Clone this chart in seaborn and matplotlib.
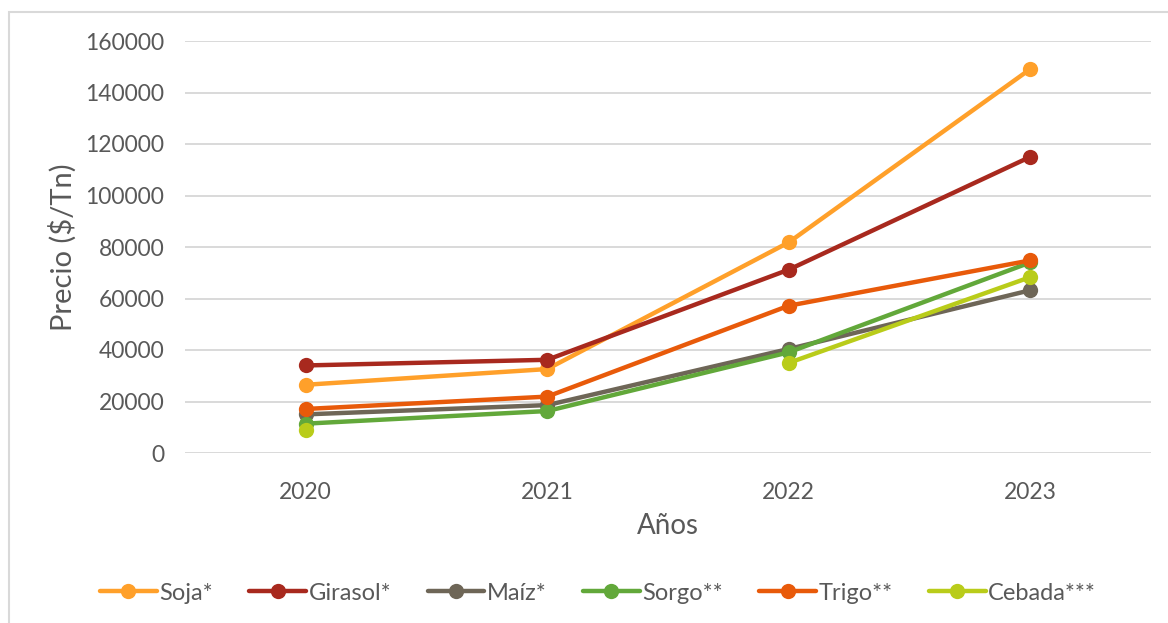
import numpy as np
import pandas as pd
import matplotlib
matplotlib.use("Agg")
import matplotlib.pyplot as plt
from matplotlib.lines import Line2D
from matplotlib.patches import Rectangle
import seaborn as sns

# ---- datos ----
anios = ["2020", "2021", "2022", "2023"]
soja = [26500, 32600, 81800, 149100]
girasol = [34000, 36200, 71200, 115000]
maiz = [15000, 18600, 40400, 63200]
sorgo = [11400, 16300, 39100, 74000]
trigo = [17100, 21900, 57200, 74800]
cebada = [9000, np.nan, 35000, 68300]

cultivos = ["Soja*", "Girasol*", "Maíz*", "Sorgo**", "Trigo**", "Cebada***"]
series = [soja, girasol, maiz, sorgo, trigo, cebada]
colores = ["#FFA02A", "#A8291E", "#6E6657", "#62A83A", "#E85A0A", "#B9CC1A"]

filas = []
for nombre, vals in zip(cultivos, series):
    tramo = 0
    for a, v in zip(anios, vals):
        if pd.isna(v):
            tramo += 1  # corta la linea donde falta el dato
            continue
        filas.append({"Año": a, "Precio": v, "Cultivo": nombre, "tramo": tramo})
df = pd.DataFrame(filas)

# ---- figura ----
sns.set_style("white")
plt.rcParams["font.family"] = ["Lato", "DejaVu Sans"]
gris = "#595959"

fig = plt.figure(figsize=(11.68, 6.23), dpi=100)
ax = fig.add_axes([185 / 1168, 1 - 453 / 623, 966 / 1168, 412 / 623])

sns.lineplot(data=df, x="Año", y="Precio", hue="Cultivo", units="tramo",
             estimator=None, hue_order=cultivos, palette=colores,
             marker="o", markersize=11, markeredgewidth=0, linewidth=3.2,
             legend=False, sort=False, ax=ax)

ax.set_xlim(-0.5, 3.5)
ax.set_ylim(0, 160000)
ax.set_yticks(range(0, 160001, 20000))
ax.yaxis.grid(True, color="#D9D9D9", linewidth=1.4)
ax.set_axisbelow(True)
sns.despine(ax=ax, left=True, bottom=True)
ax.tick_params(axis="both", length=0, labelsize=16.5, labelcolor=gris)
ax.tick_params(axis="y", pad=15)
ax.tick_params(axis="x", pad=21)

ax.set_xlabel("Años", fontsize=20, color=gris, labelpad=7)
ax.set_ylabel("Precio ($/Tn)", fontsize=21, color=gris, labelpad=6)

handles = [Line2D([0], [0], color=c, linewidth=3.2, marker="o", markersize=11,
                  markeredgewidth=0) for c in colores]
fig.legend(handles, cultivos, loc="center", bbox_to_anchor=(598 / 1168, 1 - 593 / 623),
           ncol=6, frameon=False, fontsize=17, labelcolor=gris, handlelength=2.4,
           handletextpad=0.1, columnspacing=1.55)

# marco del grafico (recortado a derecha y abajo)
fig.patches.append(Rectangle((9 / 1168, -0.1), 1.2, 1.1 - 12 / 623, transform=fig.transFigure,
                             fill=False, edgecolor="#D9D9D9", linewidth=1.5))

fig.savefig("out.png", dpi=100, facecolor="white")
